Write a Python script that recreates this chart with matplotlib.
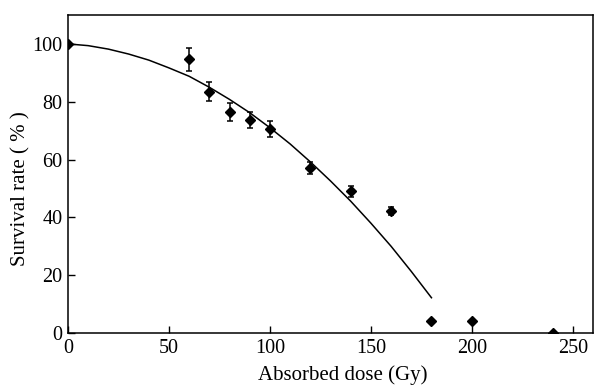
import matplotlib
matplotlib.use("Agg")
import matplotlib.pyplot as plt

plt.rcParams['font.family'] = ['Liberation Serif', 'DejaVu Serif']

dose = [0, 60, 70, 80, 90, 100, 120, 140, 160, 180, 200, 240]
survival = [100, 94.7, 83.5, 76.6, 73.7, 70.6, 57.0, 49.0, 42.2, 4.2, 4.0, 0.0]
err = [0, 3.9, 3.3, 3.1, 2.9, 2.9, 2.0, 2.0, 1.5, 0, 0, 0]

curve_x = [0, 10, 20, 30, 40, 50, 60, 70, 80, 90, 100, 110, 120, 130, 140, 150, 160, 170, 180]
curve_y = [100, 99.4, 98.2, 96.5, 94.4, 91.7, 88.8, 85.0, 80.8, 76.2, 71.0, 65.4, 59.2, 52.6, 45.6, 38.0, 30.0, 21.3, 12.2]

xticks = [0, 50, 100, 150, 200, 250]
yticks = [0, 20, 40, 60, 80, 100]

W, H = 594, 385
fig = plt.figure(figsize=(W / 100, H / 100), dpi=100)
ax = fig.add_axes([68 / W, (H - 333) / H, 525 / W, 318 / H])

ax.plot(curve_x, curve_y, color='black', lw=1.1)
ax.errorbar(dose, survival, yerr=err, fmt='D', color='black', ms=5,
            ecolor='black', elinewidth=1.1, capsize=2.5, capthick=1.1,
            clip_on=True)

ax.set_xlim(0, 260)
ax.set_ylim(0, 110)
ax.set_xticks(xticks)
ax.set_yticks(yticks)
ax.tick_params(direction='in', length=5, width=1, labelsize=14.5, pad=4)
for s in ax.spines.values():
    s.set_linewidth(1.1)
    s.set_zorder(5)

fig.text(343 / W, 1 - 375 / H, 'Absorbed dose (Gy)', fontsize=15,
         ha='center', va='center')
fig.text(21 / W, 1 - 189 / H, 'Survival rate ( % )', fontsize=15,
         ha='center', va='center', rotation=90)

fig.savefig('out.png', dpi=100)
